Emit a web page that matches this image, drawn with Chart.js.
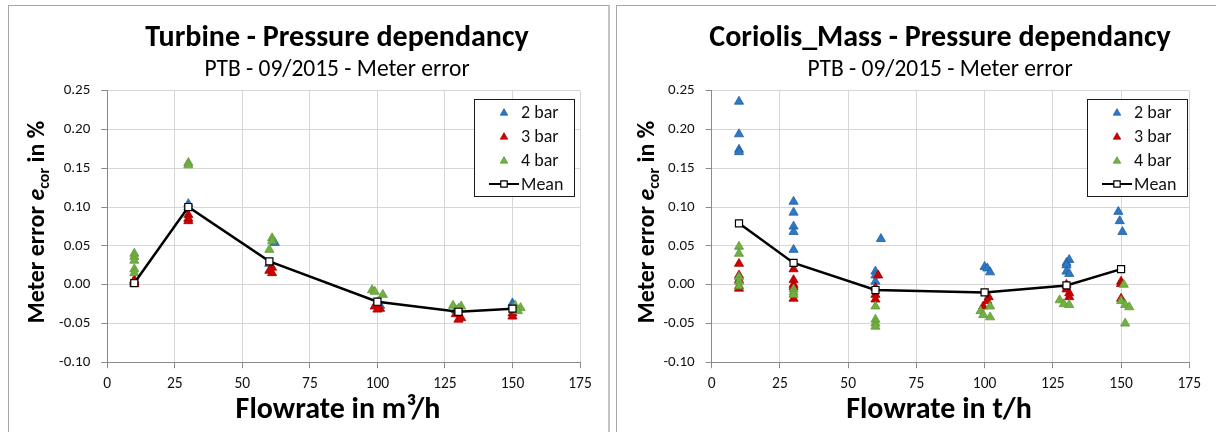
<!DOCTYPE html>
<html>
<head>
<meta charset="utf-8">
<title>Pressure dependancy</title>
<script src="https://cdn.jsdelivr.net/npm/chart.js@4.4.1/dist/chart.umd.min.js"></script>
<style>
  html, body { margin: 0; padding: 0; background: #fff; width: 1216px; height: 432px; overflow: hidden; }
  .panel { position: absolute; top: 5px; height: 440px; border: 1px solid #a6a6a6; border-bottom: none; background: #fff; }
  #panelTurbine { left: 8px; width: 599px; border-right: 2px solid #c4c4c4; }
  #panelCoriolis { left: 616px; width: 640px; border-right: none; }
  .panel canvas { position: absolute; left: 0; top: 0; }
</style>
</head>
<body>
<div class="panel" id="panelTurbine"><canvas id="turbine" width="599" height="426"></canvas></div>
<div class="panel" id="panelCoriolis"><canvas id="coriolis" width="599" height="426"></canvas></div>
<script>
// ---- Turbine meter, error in % per flowrate (m³/h) ----
const turbine2bar = [[10,0.005],[10,0.004],[30,0.104],[30,0.100],[62,0.054],[60,0.027],[100,-0.023],[101,-0.027],[129,-0.033],[150,-0.024],[150,-0.027]];
const turbine3bar = [[10,0.006],[10,0.003],[10,0.001],[30,0.090],[30,0.085],[30,0.082],[61,0.022],[60,0.018],[61,0.015],[99,-0.028],[101,-0.031],[100,-0.032],[129,-0.038],[131,-0.043],[130,-0.045],[150,-0.037],[150,-0.041]];
const turbine4bar = [[10,0.040],[10,0.036],[10,0.031],[10,0.020],[10,0.015],[30,0.157],[30,0.154],[61,0.060],[61,0.056],[60,0.045],[98,-0.007],[99,-0.009],[102,-0.013],[128,-0.027],[131,-0.028],[130,-0.031],[151,-0.027],[153,-0.030],[152,-0.034]];
const turbineMean = [[10,0.002],[30,0.100],[60,0.030],[100,-0.022],[130,-0.035],[150,-0.031]];

// ---- Coriolis mass meter, error in % per flowrate (t/h) ----
const coriolis2bar = [[10,0.236],[10,0.194],[10,0.174],[10,0.171],[30,0.107],[30,0.093],[30,0.075],[30,0.068],[30,0.045],[62,0.059],[60,0.017],[60,0.012],[60,0.004],[100,0.023],[101,0.021],[102,0.016],[131,0.032],[130,0.028],[130,0.025],[130,0.017],[131,0.014],[149,0.094],[149.5,0.082],[150.5,0.068]];
const coriolis3bar = [[10,0.027],[10,0.012],[10,0.006],[10,-0.002],[10,-0.005],[30,0.020],[30,0.006],[30,0.000],[30,-0.003],[30,-0.018],[61,0.012],[60,-0.004],[60,-0.013],[60,-0.019],[101.5,-0.016],[101,-0.021],[99.5,-0.028],[130,0.000],[130,-0.006],[131,-0.011],[131,-0.016],[150,0.004],[150,0.001],[150,-0.018]];
const coriolis4bar = [[10,0.049],[10,0.040],[10,0.010],[10,0.004],[10,-0.002],[30,-0.006],[30,-0.010],[30,-0.013],[60,-0.028],[60,-0.045],[60,-0.050],[60,-0.054],[102,-0.028],[98.5,-0.034],[99.5,-0.039],[102,-0.042],[127.5,-0.020],[129,-0.025],[131,-0.026],[151,0.000],[150,-0.021],[151.5,-0.026],[153,-0.029],[151.5,-0.050]];
const coriolisMean = [[10,0.079],[30,0.028],[60,-0.007],[100,-0.010],[130,-0.001],[150,0.020]];

// ---- Axes ----
const xMin = 0, xMax = 175, xStep = 25;
const yMin = -0.10, yMax = 0.25, yStep = 0.05;

const FONT = "Carlito, Lato, 'Liberation Sans', sans-serif";
const INK = '#111';

Chart.defaults.font.family = FONT;
Chart.defaults.color = INK;

const pts = arr => arr.map(([x, y]) => ({ x, y }));

function markerSet(label, arr, fill, edge, order) {
  return {
    label, data: pts(arr), order,
    pointStyle: 'triangle', pointRadius: 5.3, pointBorderWidth: 0.8,
    backgroundColor: fill, borderColor: edge,
    pointBackgroundColor: fill, pointBorderColor: edge, showLine: false
  };
}

function meanSet(arr) {
  return {
    label: 'Mean', data: pts(arr), order: 0, showLine: true,
    borderColor: '#000', borderWidth: 2.5, tension: 0,
    pointStyle: 'rect', pointRadius: 5, pointBorderWidth: 1.2,
    pointBackgroundColor: '#fff', pointBorderColor: '#000', backgroundColor: '#fff'
  };
}

// rotated axis title with italic "e" and subscript "cor"
function drawYTitle(ctx, cx, cy) {
  const parts = [
    { t: 'Meter error ', f: `bold 24px ${FONT}`, dy: 0 },
    { t: 'e', f: `italic bold 24px ${FONT}`, dy: 0 },
    { t: 'cor', f: `bold 16px ${FONT}`, dy: 5 },
    { t: ' in %', f: `bold 24px ${FONT}`, dy: 0 }
  ];
  ctx.save();
  ctx.translate(cx, cy);
  ctx.rotate(-Math.PI / 2);
  let w = 0;
  parts.forEach(p => { ctx.font = p.f; p.w = ctx.measureText(p.t).width; w += p.w; });
  let x = -w / 2;
  ctx.textAlign = 'left';
  ctx.textBaseline = 'alphabetic';
  ctx.fillStyle = '#000';
  parts.forEach(p => { ctx.font = p.f; ctx.fillText(p.t, x, 9 + p.dy); x += p.w; });
  ctx.restore();
}

function drawLegend(chart, inset) {
  const ctx = chart.ctx, a = chart.chartArea;
  const w = 100, h = 97;
  const x0 = Math.round(a.right - inset - w), y0 = Math.round(a.top + 8);
  ctx.save();
  ctx.fillStyle = '#fff';
  ctx.fillRect(x0, y0, w, h);
  ctx.strokeStyle = '#1a1a1a';
  ctx.lineWidth = 1;
  ctx.strokeRect(x0 + 0.5, y0 + 0.5, w, h);
  ctx.font = `18px ${FONT}`;
  ctx.textBaseline = 'middle';
  ctx.textAlign = 'left';
  chart.data.datasets.forEach((ds, i) => {
    const y = y0 + 13 + i * 24;
    const mx = x0 + 30;
    if (ds.showLine) {
      ctx.strokeStyle = '#000';
      ctx.lineWidth = 2;
      ctx.beginPath(); ctx.moveTo(x0 + 15, y); ctx.lineTo(x0 + 45, y); ctx.stroke();
      ctx.fillStyle = '#fff'; ctx.strokeStyle = '#000'; ctx.lineWidth = 1.2;
      Chart.helpers.drawPoint(ctx, { pointStyle: 'rect', radius: 4.5, rotation: 0, borderWidth: 1.2 }, mx, y);
    } else {
      ctx.fillStyle = ds.pointBackgroundColor; ctx.strokeStyle = ds.pointBorderColor; ctx.lineWidth = 0.8;
      Chart.helpers.drawPoint(ctx, { pointStyle: 'triangle', radius: 4.3, rotation: 0, borderWidth: 0.8 }, mx, y + 1);
    }
    ctx.fillStyle = INK;
    ctx.fillText(ds.label, x0 + 47, y + 1);
  });
  ctx.restore();
}

const decorPlugin = {
  id: 'decor',
  afterDraw(chart, args, o) {
    const ctx = chart.ctx;
    ctx.save();
    ctx.fillStyle = '#000';
    ctx.textAlign = 'center';
    ctx.textBaseline = 'middle';
    ctx.font = `bold 30px ${FONT}`;
    ctx.fillText(o.title, o.cx, 32);
    ctx.font = `23.5px ${FONT}`;
    ctx.fillText(o.subtitle, o.cx, 64);
    ctx.font = `bold 30px ${FONT}`;
    ctx.fillText(o.xTitle, o.xcx, 404);
    ctx.restore();
    drawYTitle(ctx, o.ycx, 216);
    drawLegend(chart, o.legendInset);
  }
};

function buildChart(id, p) {
  return new Chart(document.getElementById(id), {
    type: 'scatter',
    data: {
      datasets: [
        markerSet('2 bar', p.s2, '#2f78c4', '#1f5fa3', 3),
        markerSet('3 bar', p.s3, '#cc0000', '#a80000', 2),
        markerSet('4 bar', p.s4, '#72b043', '#5e9a35', 1),
        meanSet(p.mean)
      ]
    },
    options: {
      responsive: false,
      animation: false,
      events: [],
      layout: { padding: { top: 84.7, right: p.padRight, bottom: 39.8, left: 0 } },
      plugins: {
        legend: { display: false },
        tooltip: { enabled: false },
        decor: p.decor
      },
      scales: {
        x: {
          type: 'linear', min: xMin, max: xMax,
          afterFit(s) { s.height = 30; },
          ticks: { stepSize: xStep, padding: 7, color: INK, font: { size: 15.5 }, maxRotation: 0 },
          grid: { color: '#d6d6d6', lineWidth: 1, tickColor: '#8a8a8a', tickLength: 6 },
          border: { color: '#8a8a8a', width: 1 }
        },
        y: {
          type: 'linear', min: yMin, max: yMax,
          afterFit(s) { s.width = p.axisW; },
          ticks: {
            stepSize: yStep, padding: 11, color: INK, font: { size: 15 },
            callback: v => (Math.abs(v) < 1e-9 ? 0 : v).toFixed(2)
          },
          grid: { color: '#d6d6d6', lineWidth: 1, tickColor: '#8a8a8a', tickLength: 6 },
          border: { color: '#8a8a8a', width: 1 }
        }
      }
    },
    plugins: [decorPlugin]
  });
}

buildChart('turbine', {
  s2: turbine2bar, s3: turbine3bar, s4: turbine4bar, mean: turbineMean,
  axisW: 98.3, padRight: 28,
  decor: {
    title: 'Turbine - Pressure dependancy', subtitle: 'PTB - 09/2015 - Meter error',
    xTitle: 'Flowrate in m³/h', cx: 328, xcx: 329, ycx: 26, legendInset: 6
  }
});

buildChart('coriolis', {
  s2: coriolis2bar, s3: coriolis3bar, s4: coriolis4bar, mean: coriolisMean,
  axisW: 94.7, padRight: 26.7,
  decor: {
    title: 'Coriolis_Mass - Pressure dependancy', subtitle: 'PTB - 09/2015 - Meter error',
    xTitle: 'Flowrate in t/h', cx: 323, xcx: 322, ycx: 28, legendInset: 2
  }
});
</script>
</body>
</html>
